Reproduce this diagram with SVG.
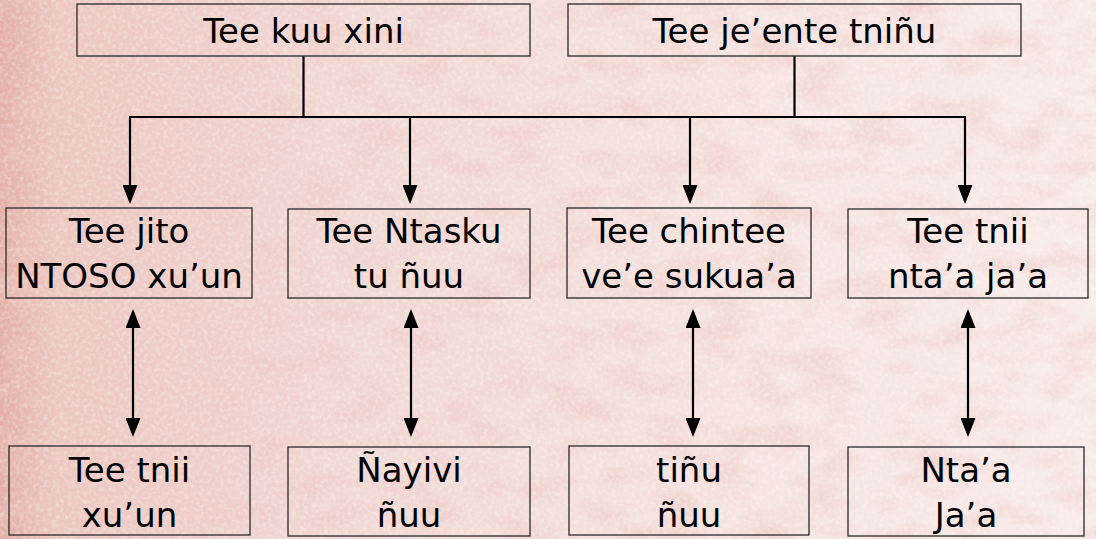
<svg xmlns="http://www.w3.org/2000/svg" width="1096" height="539" viewBox="0 0 1096 539">
  <defs>
    <linearGradient id="bg" x1="0" y1="0" x2="1" y2="0">
      <stop offset="0" stop-color="#e3afa7"/>
      <stop offset="0.05" stop-color="#ecc6c0"/>
      <stop offset="0.3" stop-color="#f1d8d4"/>
      <stop offset="0.65" stop-color="#f5e3e0"/>
      <stop offset="1" stop-color="#f8ecea"/>
    </linearGradient>
    <filter id="tex" x="0" y="0" width="100%" height="100%">
      <feTurbulence type="fractalNoise" baseFrequency="0.02 0.04" numOctaves="5" seed="11" result="n"/>
      <feColorMatrix in="n" type="matrix" values="0 0 0 0 0.86  0 0 0 0 0.58  0 0 0 0 0.55  0 0 0 2.4 -1.0"/>
    </filter>
    <filter id="tex2" x="0" y="0" width="100%" height="100%">
      <feTurbulence type="fractalNoise" baseFrequency="0.25" numOctaves="2" seed="3" result="n"/>
      <feColorMatrix in="n" type="matrix" values="0 0 0 0 1  0 0 0 0 1  0 0 0 0 1  0 0 0 1.8 -0.75"/>
    </filter>
    <marker id="ah" viewBox="0 0 19 15" refX="16" refY="7.5" markerWidth="19" markerHeight="15" markerUnits="userSpaceOnUse" orient="auto-start-reverse">
      <path d="M0,0 L19,7.5 L0,15 z" fill="#000"/>
    </marker>
    <style>
      .box { fill: none; stroke: #2a2a2a; stroke-width: 1.3; }
      .t { font-family: "DejaVu Sans", "Liberation Sans", sans-serif; font-size: 34px; fill: #000; text-anchor: middle; }
      .c { fill: none; stroke: #000; stroke-width: 2.2; }
      .a { fill: none; stroke: #000; stroke-width: 2.2; marker-end: url(#ah); }
      .d { fill: none; stroke: #000; stroke-width: 2.2; marker-start: url(#ah); marker-end: url(#ah); }
    </style>
  </defs>

  <rect x="0" y="0" width="1096" height="539" fill="url(#bg)"/>
  <rect x="0" y="0" width="1096" height="539" filter="url(#tex)" opacity="0.55"/>
  <rect x="0" y="0" width="1096" height="539" filter="url(#tex2)" opacity="0.4"/>

  <g id="connectors">
    <path class="c" d="M303.5,56 V117"/>
    <path class="c" d="M794.5,56 V117"/>
    <path class="c" d="M129,117 H966"/>
    <path class="a" d="M130,117 V201"/>
    <path class="a" d="M410,117 V201"/>
    <path class="a" d="M690,117 V201"/>
    <path class="a" d="M965,117 V201"/>
    <path class="d" d="M133,312 V434"/>
    <path class="d" d="M411,312 V434"/>
    <path class="d" d="M693,312 V434"/>
    <path class="d" d="M968,312 V434"/>
  </g>

  <g id="n-kuu-xini">
    <rect class="box" x="77" y="4" width="453" height="52"/>
    <text class="t" x="303.5" y="43">Tee kuu xini</text>
  </g>
  <g id="n-jeente-tninu">
    <rect class="box" x="568" y="4" width="453" height="52"/>
    <text class="t" x="794.5" y="43">Tee je’ente tniñu</text>
  </g>

  <g id="n-jito-ntoso">
    <rect class="box" x="6" y="208" width="246" height="90"/>
    <text class="t" x="129" y="243">Tee jito</text>
    <text class="t" x="129" y="288">NTOSO xu’un</text>
  </g>
  <g id="n-ntasku">
    <rect class="box" x="288" y="209" width="242" height="89"/>
    <text class="t" x="409" y="243">Tee Ntasku</text>
    <text class="t" x="409" y="288">tu ñuu</text>
  </g>
  <g id="n-chintee">
    <rect class="box" x="567" y="208" width="244" height="90"/>
    <text class="t" x="689" y="243">Tee chintee</text>
    <text class="t" x="689" y="288">ve’e sukua’a</text>
  </g>
  <g id="n-tnii-ntaa">
    <rect class="box" x="848" y="209" width="240" height="89"/>
    <text class="t" x="968" y="243">Tee tnii</text>
    <text class="t" x="968" y="288">nta’a ja’a</text>
  </g>

  <g id="n-tnii-xuun">
    <rect class="box" x="9" y="446" width="241" height="89"/>
    <text class="t" x="129.5" y="482">Tee tnii</text>
    <text class="t" x="129.5" y="527">xu’un</text>
  </g>
  <g id="n-nayivi">
    <rect class="box" x="288" y="447" width="242" height="89"/>
    <text class="t" x="409" y="482">Ñayivi</text>
    <text class="t" x="409" y="527">ñuu</text>
  </g>
  <g id="n-tinu">
    <rect class="box" x="569" y="446" width="240" height="89"/>
    <text class="t" x="689" y="482">tiñu</text>
    <text class="t" x="689" y="527">ñuu</text>
  </g>
  <g id="n-ntaa-jaa">
    <rect class="box" x="848" y="447" width="236" height="89"/>
    <text class="t" x="966" y="482">Nta’a</text>
    <text class="t" x="966" y="527">Ja’a</text>
  </g>
</svg>
